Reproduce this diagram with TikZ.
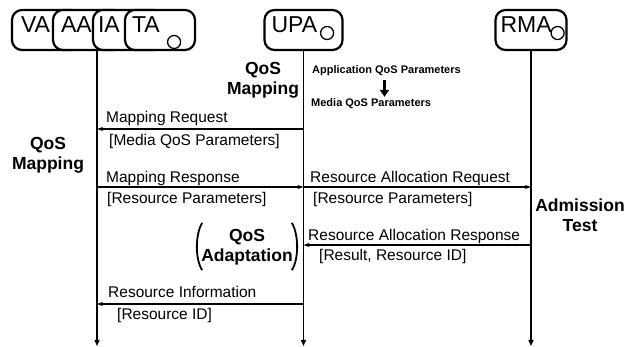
\documentclass[tikz,border=0pt]{standalone}
\usepackage{fontspec}
\setmainfont{Liberation Sans}
\usepackage{tikz}
\usetikzlibrary{arrows.meta,calc,positioning}
\tikzset{
  agent/.style={draw,fill=white,line width=2.2pt,rounded corners=10pt,minimum width=70pt,minimum height=40pt,inner sep=0pt},
  aname/.style={anchor=base west,inner sep=0pt,font=\fontsize{23}{25}\selectfont},
  port/.style={draw,line width=1.3pt,circle,minimum size=13pt,inner sep=0pt},
  life/.style={line width=1.4pt,-{Triangle[length=6pt,width=5pt]}},
  msg/.style={line width=1.1pt,-{Stealth[length=6pt,width=4pt]}},
  lbl/.style={anchor=base west,inner sep=0pt,font=\fontsize{15.5}{17}\selectfont},
  act/.style={align=center,inner sep=2pt,font=\bfseries\fontsize{17.5}{20}\selectfont},
  param/.style={anchor=base west,inner sep=0pt,font=\bfseries\fontsize{11}{13}\selectfont},
  paren/.style={line width=1.8pt}
}
\begin{document}
\begin{tikzpicture}[x=1pt,y=-1pt]
  \useasboundingbox[fill=white] (0,0) rectangle (630,347);
  \node[agent] (va) at (47,30) {};
  \node[aname] (vat) at ($(va.west)+(10,3)$) {VA};
  \node[agent] (aa) at (88,30) {};
  \node[aname] (aat) at ($(aa.west)+(9,3)$) {AA};
  \node[agent] (ia) at (128,30) {};
  \node[aname] (iat) at ($(ia.west)+(6,3)$) {IA};
  \node[agent] (ta) at (160,30) {};
  \node[aname] (tat) at ($(ta.west)+(8,3)$) {TA};
  \node[port] (tap) at ($(ta.east)+(-22,12)$) {};
  \node[agent,minimum width=78pt] (upa) at (303.5,30) {};
  \node[aname] (upat) at ($(upa.west)+(8,3)$) {UPA};
  \node[port] (upap) at ($(upa.east)+(-16.5,3)$) {};
  \node[agent,minimum width=71pt] (rma) at (531,30) {};
  \node[aname] (rmat) at ($(rma.west)+(6,3)$) {RMA};
  \node[port] (rmap) at ($(rma.east)+(-10,3)$) {};

  \coordinate (lg) at (97,50);
  \coordinate (lu) at (upa.south);
  \coordinate (lr) at (rma.south);
  \coordinate (bot) at (0,346);
  \draw[life] (lg) -- (lg |- bot);
  \draw[life] (lu) -- (lu |- bot);
  \draw[life] (lr) -- (lr |- bot);

  \node[act] (qmu) at (263,80) {QoS\\Mapping};
  \node[param] (appq) at (312,74) {Application QoS Parameters};
  \node[param] (medq) at (311,107) {Media QoS Parameters};
  \draw[line width=2.4pt,-{Triangle[length=7pt,width=9pt]}] ($(appq.south)+(-2,4)$) -- ($(appq.south |- medq.north)+(-2,-2)$);

  \draw[msg] (lu |- 0,129) -- (lg |- 0,129);
  \node[lbl] (mreq) at (106,123) {Mapping Request};
  \node[lbl] (mreqp) at (109,145.5) {[Media QoS Parameters]};
  \node[act] (qml) at (48,155) {QoS\\Mapping};

  \draw[msg] (lg |- 0,187) -- (lu |- 0,187);
  \node[lbl] (mres) at (106,182.5) {Mapping Response};
  \node[lbl] (mresp) at (107,203.5) {[Resource Parameters]};
  \draw[msg] (lu |- 0,187) -- (lr |- 0,187);
  \node[lbl] (rreq) at (310,183) {Resource Allocation Request};
  \node[lbl] (rreqp) at (313,203.5) {[Resource Parameters]};
  \node[act] (adm) at (580,215) {Admission\\Test};

  \node[act] (qa) at (247,247) {QoS\\Adaptation};
  \draw[paren] ($(qa.north west)+(3,-4)$) .. controls ($(qa.north west)+(-4,8)$) and ($(qa.south west)+(-4,-8)$) .. ($(qa.south west)+(3,3)$);
  \draw[paren] ($(qa.north east)+(-3,-4)$) .. controls ($(qa.north east)+(4,8)$) and ($(qa.south east)+(4,-8)$) .. ($(qa.south east)+(-3,3)$);

  \draw[msg] (lr |- 0,245) -- (lu |- 0,245);
  \node[lbl] (rres) at (308,240.5) {Resource Allocation Response};
  \node[lbl] (rresp) at (319,261) {[Result, Resource ID]};

  \draw[msg] (lu |- 0,304) -- (lg |- 0,304);
  \node[lbl] (rinf) at (108,297.5) {Resource Information};
  \node[lbl] (rinfp) at (117,320) {[Resource ID]};
\end{tikzpicture}
\end{document}
